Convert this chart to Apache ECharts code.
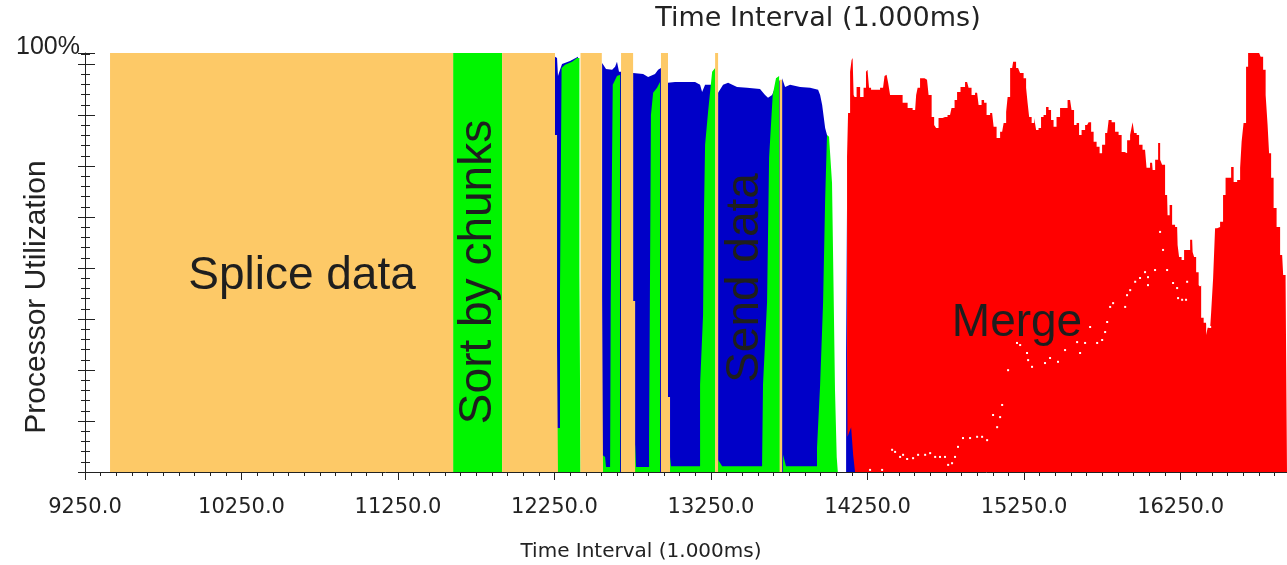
<!DOCTYPE html>
<html>
<head>
<meta charset="utf-8">
<title>Processor Utilization</title>
<script src="https://cdn.jsdelivr.net/npm/echarts@6/dist/echarts.min.js"></script>
<style>
  html, body { margin: 0; padding: 0; background: #fff; }
  #chart { width: 1287px; height: 565px; }
</style>
</head>
<body>
<div id="chart"></div>
<script>
// time interval (ms) -> processor utilization (%)
// "send data" is given as the running total of the stack, the other phases sit over it
var spliceData = [
  [9410, 0], [9410, 100], [11602, 100], [11602, 0],
  [11915, 0], [11915, 100], [12253, 100], [12253, 80.4], [12266, 80.4], [12266, 30.3], [12272, 30.3], [12272, 0],
  [12416, 0], [12416, 100], [12552, 100], [12552, 49.9], [12560, 49.9], [12560, 0],
  [12675, 0], [12675, 100], [12752, 100], [12752, 40.8], [12765, 40.8], [12765, 0],
  [12930, 0], [12930, 100], [12975, 100], [12975, 17.9], [12988, 17.9], [12988, 0],
  [13276, 0], [13276, 100], [13295, 100], [13295, 0],
  [13688, 0], [13688, 93.6], [13704, 93.6], [13704, 0]
]

var sortData = [
  [11602, 0], [11602, 100], [11915, 100], [11915, 0],
  [12266, 0], [12266, 10.5], [12285, 10.5], [12285, 43.4], [12295, 96.4], [12317, 97.2], [12362, 97.9],
  [12394, 98.8], [12409, 98.8], [12409, 47.5], [12416, 47.5], [12416, 0],
  [12554, 0], [12554, 4.1], [12573, 3.6], [12579, 1.2], [12605, 1.2], [12609, 40.6], [12622, 92.4],
  [12649, 94.5], [12669, 94.8], [12669, 0],
  [12752, 0], [12752, 6.4], [12765, 6.4], [12771, 1.2], [12854, 1.2], [12854, 7.2], [12866, 85.2],
  [12880, 90.5], [12905, 91.7], [12924, 93.1], [12924, 0],
  [12975, 0], [12975, 1.4], [12982, 5.7], [12994, 1.4], [13180, 1.4], [13180, 20.8], [13199, 37.5],
  [13205, 62.1], [13212, 78.1], [13231, 85.9], [13257, 95.5], [13276, 96.4], [13276, 0],
  [13295, 0], [13295, 2.9], [13321, 1.4], [13576, 1.4], [13582, 20.8], [13608, 40.6], [13621, 75.0],
  [13644, 90.0], [13665, 94.0], [13685, 94.5], [13691, 94.5], [13691, 0],
  [13710, 0], [13710, 4.1], [13729, 1.4], [13927, 1.4], [13927, 5.7], [13947, 20.8], [13966, 40.6],
  [13979, 64.9], [13991, 80.4], [14004, 80.0], [14023, 69.0], [14033, 43.4], [14042, 19.6],
  [14053, 3.6], [14060, 0]
]

var sendData = [
  [12253, 0], [12253, 99.1], [12266, 98.8], [12272, 94.5], [12285, 96.0], [12298, 97.4], [12349, 98.1],
  [12400, 99.1], [12409, 99.1], [12409, 0],
  [12554, 0], [12554, 97.6], [12579, 96.2], [12618, 96.0], [12637, 96.7], [12649, 97.9], [12662, 95.5],
  [12675, 95.5], [12675, 0],
  [12752, 0], [12752, 95.2], [12816, 95.0], [12848, 94.3], [12892, 95.0], [12912, 96.0], [12930, 96.4], [12930, 0],
  [12975, 0], [12975, 92.9], [13020, 93.1], [13148, 93.1], [13180, 92.4], [13193, 90.7], [13212, 92.4],
  [13276, 92.4], [13276, 0],
  [13295, 0], [13295, 90.5], [13327, 92.4], [13359, 92.9], [13416, 91.9], [13480, 91.7], [13563, 91.4],
  [13595, 90.0], [13614, 89.3], [13640, 90.0], [13659, 91.7], [13691, 93.6], [13691, 0],
  [13704, 0], [13704, 94.0], [13723, 91.9], [13755, 92.4], [13819, 91.9], [13883, 91.7], [13934, 91.2],
  [13947, 90.0], [13960, 87.6], [13979, 82.1], [13991, 80.4], [13998, 0],
  [14113, 0], [14113, 63.0], [14122, 63.0], [14122, 8.4], [14145, 10.7], [14158, 4.1], [14170, 0]
]

var mergeData = [
  [14119, 0], [14119, 75.2], [14132, 85.7], [14145, 95.5], [14151, 98.3], [14158, 98.8], [14164, 90.0],
  [14170, 89.5], [14190, 91.9], [14215, 89.5], [14234, 91.7], [14246, 95.5], [14253, 96.0], [14266, 91.7],
  [14279, 91.2], [14311, 91.2], [14349, 91.7], [14368, 94.5], [14375, 94.8], [14388, 92.9], [14400, 90.0],
  [14458, 90.0], [14490, 88.1], [14522, 86.9], [14554, 86.4], [14567, 90.0], [14573, 91.7], [14598, 94.0],
  [14630, 93.6], [14650, 90.0], [14669, 84.7], [14682, 82.8], [14694, 82.1], [14713, 84.5], [14745, 84.7],
  [14777, 85.2], [14796, 86.9], [14816, 88.8], [14828, 90.7], [14860, 91.9], [14886, 93.1], [14905, 91.7],
  [14924, 90.0], [14950, 90.5], [14969, 87.6], [14988, 88.8], [15001, 88.1], [15020, 85.2], [15046, 85.7],
  [15065, 82.4], [15084, 79.7], [15110, 81.2], [15129, 83.3], [15142, 85.9], [15148, 89.5], [15174, 96.4],
  [15186, 97.9], [15212, 96.4], [15237, 95.2], [15257, 94.0], [15269, 91.7], [15276, 88.1], [15289, 84.7],
  [15308, 83.3], [15321, 84.5], [15333, 81.6], [15352, 82.1], [15365, 84.7], [15384, 85.2], [15397, 87.1],
  [15416, 86.4], [15429, 84.0], [15448, 82.4], [15467, 84.7], [15493, 86.9], [15512, 86.9], [15544, 88.8],
  [15563, 86.4], [15576, 82.8], [15595, 83.3], [15608, 80.4], [15627, 81.6], [15653, 82.8], [15672, 83.5],
  [15685, 81.2], [15704, 78.8], [15723, 77.6], [15742, 76.1], [15755, 78.1], [15781, 80.9], [15800, 84.0],
  [15819, 83.5], [15844, 81.2], [15864, 80.4], [15883, 76.4], [15902, 76.1], [15915, 79.2], [15940, 80.4],
  [15947, 83.5], [15960, 80.9], [15979, 80.4], [15991, 78.1], [16023, 76.9], [16042, 72.6], [16068, 73.8],
  [16075, 72.1], [16100, 74.5], [16113, 78.5], [16126, 74.5], [16138, 73.3], [16164, 66.1], [16170, 61.3],
  [16190, 63.7], [16202, 59.0], [16228, 58.5], [16234, 54.2], [16247, 51.3], [16266, 50.6], [16279, 53.0],
  [16298, 53.0], [16324, 55.4], [16330, 52.5], [16343, 51.3], [16356, 47.7], [16375, 44.6], [16388, 36.8],
  [16407, 35.6], [16420, 32.7], [16426, 34.4], [16439, 34.4], [16452, 38.2], [16464, 46.3], [16477, 58.2],
  [16490, 58.5], [16515, 59.7], [16528, 66.1], [16547, 70.2], [16567, 70.2], [16579, 72.8], [16599, 69.2],
  [16624, 69.7], [16637, 72.6], [16643, 78.8], [16662, 83.3], [16675, 96.7], [16688, 100], [16752, 100],
  [16771, 99.1], [16784, 96.0], [16803, 90.0], [16809, 82.8], [16822, 76.1], [16835, 70.2], [16854, 63.0],
  [16873, 58.5], [16899, 51.8], [16912, 47.0], [16930, 45.4]
]

// white specks inside the merge area
var gapDots = [
  [14266, 0.5], [14343, 0.5], [14407, 5.3], [14426, 4.8], [14458, 3.6], [14477, 4.1], [14503, 3.1],
  [14541, 3.3], [14573, 4.1], [14618, 4.1], [14650, 4.5], [14682, 3.6], [14713, 3.6], [14745, 3.6],
  [14765, 1.7], [14790, 2.1], [14809, 3.6], [14828, 6.0], [14860, 8.1], [14905, 8.1], [14950, 8.4],
  [14982, 8.4], [15014, 7.6], [15052, 13.6], [15078, 10.7], [15097, 13.1], [15110, 16.0], [15148, 24.3],
  [15205, 30.8], [15225, 30.3], [15269, 28.4], [15276, 26.7], [15301, 25.1], [15384, 26.0], [15416, 27.2],
  [15467, 26.3], [15512, 29.1], [15589, 31.0], [15608, 28.4], [15640, 30.8], [15672, 34.6], [15717, 30.8],
  [15749, 31.5], [15768, 33.4], [15781, 35.8], [15800, 39.4], [15819, 40.3], [15896, 39.4], [15908, 42.2],
  [15928, 43.4], [15960, 45.4], [15991, 46.3], [16023, 47.7], [16042, 46.5], [16042, 44.6], [16087, 48.2],
  [16119, 57.3], [16138, 53.0], [16164, 48.2], [16202, 45.1], [16228, 43.9], [16234, 41.5], [16260, 41.1],
  [16285, 41.1], [16292, 45.4], [16375, 44.6], [16420, 35.6], [16439, 34.6]
]

var phaseLabels = ['Splice data', 'Sort by chunks', 'Send data', 'Merge']

var chart = echarts.init(document.getElementById('chart'))

function area(name, data, color, step) {
  return {
    name: name,
    type: 'line',
    data: data,
    step: step || false,
    symbol: 'none',
    silent: true,
    z: 2,
    lineStyle: { width: 0, opacity: 0 },
    areaStyle: { color: color, opacity: 1 }
  }
}

var yAxisBase = { type: 'value', min: 0, max: 100, interval: 12.17, position: 'left', offset: 0 }

chart.setOption({
  animation: false,
  grid: { left: 85, right: 0, top: 53, bottom: 93, outerBoundsMode: 'none' },
  xAxis: {
    type: 'value',
    min: 9250,
    max: 16930,
    interval: 1000,
    axisLine: { lineStyle: { color: '#222', width: 1 } },
    axisTick: { length: 8, lineStyle: { color: '#222' } },
    minorTick: { show: true, splitNumber: 10, length: 4, lineStyle: { color: '#222' } },
    splitLine: { show: false },
    axisLabel: {
      margin: 25,
      showMaxLabel: false,
      fontFamily: 'DejaVu Sans',
      fontSize: 21,
      color: '#222',
      formatter: function (v) { return v.toFixed(1) }
    }
  },
  yAxis: [
    Object.assign({}, yAxisBase, {
      axisLine: { show: true, lineStyle: { color: '#222', width: 1 } },
      axisTick: { show: true, length: 7, lineStyle: { color: '#222' } },
      minorTick: { show: true, splitNumber: 5, length: 4, lineStyle: { color: '#222' } },
      splitLine: { show: false },
      axisLabel: { show: false }
    }),
    // same axis again, ticks on the inner side so they cross the line
    Object.assign({}, yAxisBase, {
      axisLine: { show: false },
      axisTick: { show: true, inside: true, length: 10, lineStyle: { color: '#222' } },
      minorTick: { show: true, splitNumber: 5, length: 5, lineStyle: { color: '#222' } },
      splitLine: { show: false },
      axisLabel: { show: false }
    })
  ],
  series: [
    area(phaseLabels[3], mergeData, '#ff0000', 'middle'),
    area(phaseLabels[2], sendData, '#0000c8'),
    area(phaseLabels[1], sortData, '#00f500'),
    area(phaseLabels[0], spliceData, '#fdc967'),
    {
      name: 'gaps',
      type: 'scatter',
      data: gapDots,
      symbol: 'rect',
      symbolSize: 2,
      silent: true,
      z: 6,
      itemStyle: { color: '#ffffff', opacity: 1 }
    }
  ],
  graphic: [
    { type: 'text', z: 100, x: 818, y: 19, style: { text: 'Time Interval (1.000ms)', fill: '#222', font: '27px "DejaVu Sans"', textAlign: 'center', textVerticalAlign: 'middle' } },
    { type: 'text', z: 100, x: 641, y: 552, style: { text: 'Time Interval (1.000ms)', fill: '#222', font: '20px "DejaVu Sans"', textAlign: 'center', textVerticalAlign: 'middle' } },
    { type: 'text', z: 100, x: 80, y: 47, style: { text: '100%', fill: '#222', font: '25px "Liberation Sans"', textAlign: 'right', textVerticalAlign: 'middle' } },
    { type: 'text', z: 100, x: 37, y: 297, rotation: Math.PI / 2, style: { text: 'Processor Utilization', fill: '#222', font: '30px "Liberation Sans"', textAlign: 'center', textVerticalAlign: 'middle' } },
    { type: 'text', z: 100, x: 302, y: 276, style: { text: phaseLabels[0], fill: '#1e1e1e', font: '46px "Liberation Sans"', textAlign: 'center', textVerticalAlign: 'middle' } },
    { type: 'text', z: 100, x: 478, y: 272, rotation: Math.PI / 2, style: { text: phaseLabels[1], fill: '#1e1e1e', font: '46px "Liberation Sans"', textAlign: 'center', textVerticalAlign: 'middle' } },
    { type: 'text', z: 100, x: 745, y: 278, rotation: Math.PI / 2, style: { text: phaseLabels[2], fill: '#1e1e1e', font: '46px "Liberation Sans"', textAlign: 'center', textVerticalAlign: 'middle' } },
    { type: 'text', z: 100, x: 1017, y: 323, style: { text: phaseLabels[3], fill: '#1e1e1e', font: '46px "Liberation Sans"', textAlign: 'center', textVerticalAlign: 'middle' } }
  ]
})
</script>
</body>
</html>
